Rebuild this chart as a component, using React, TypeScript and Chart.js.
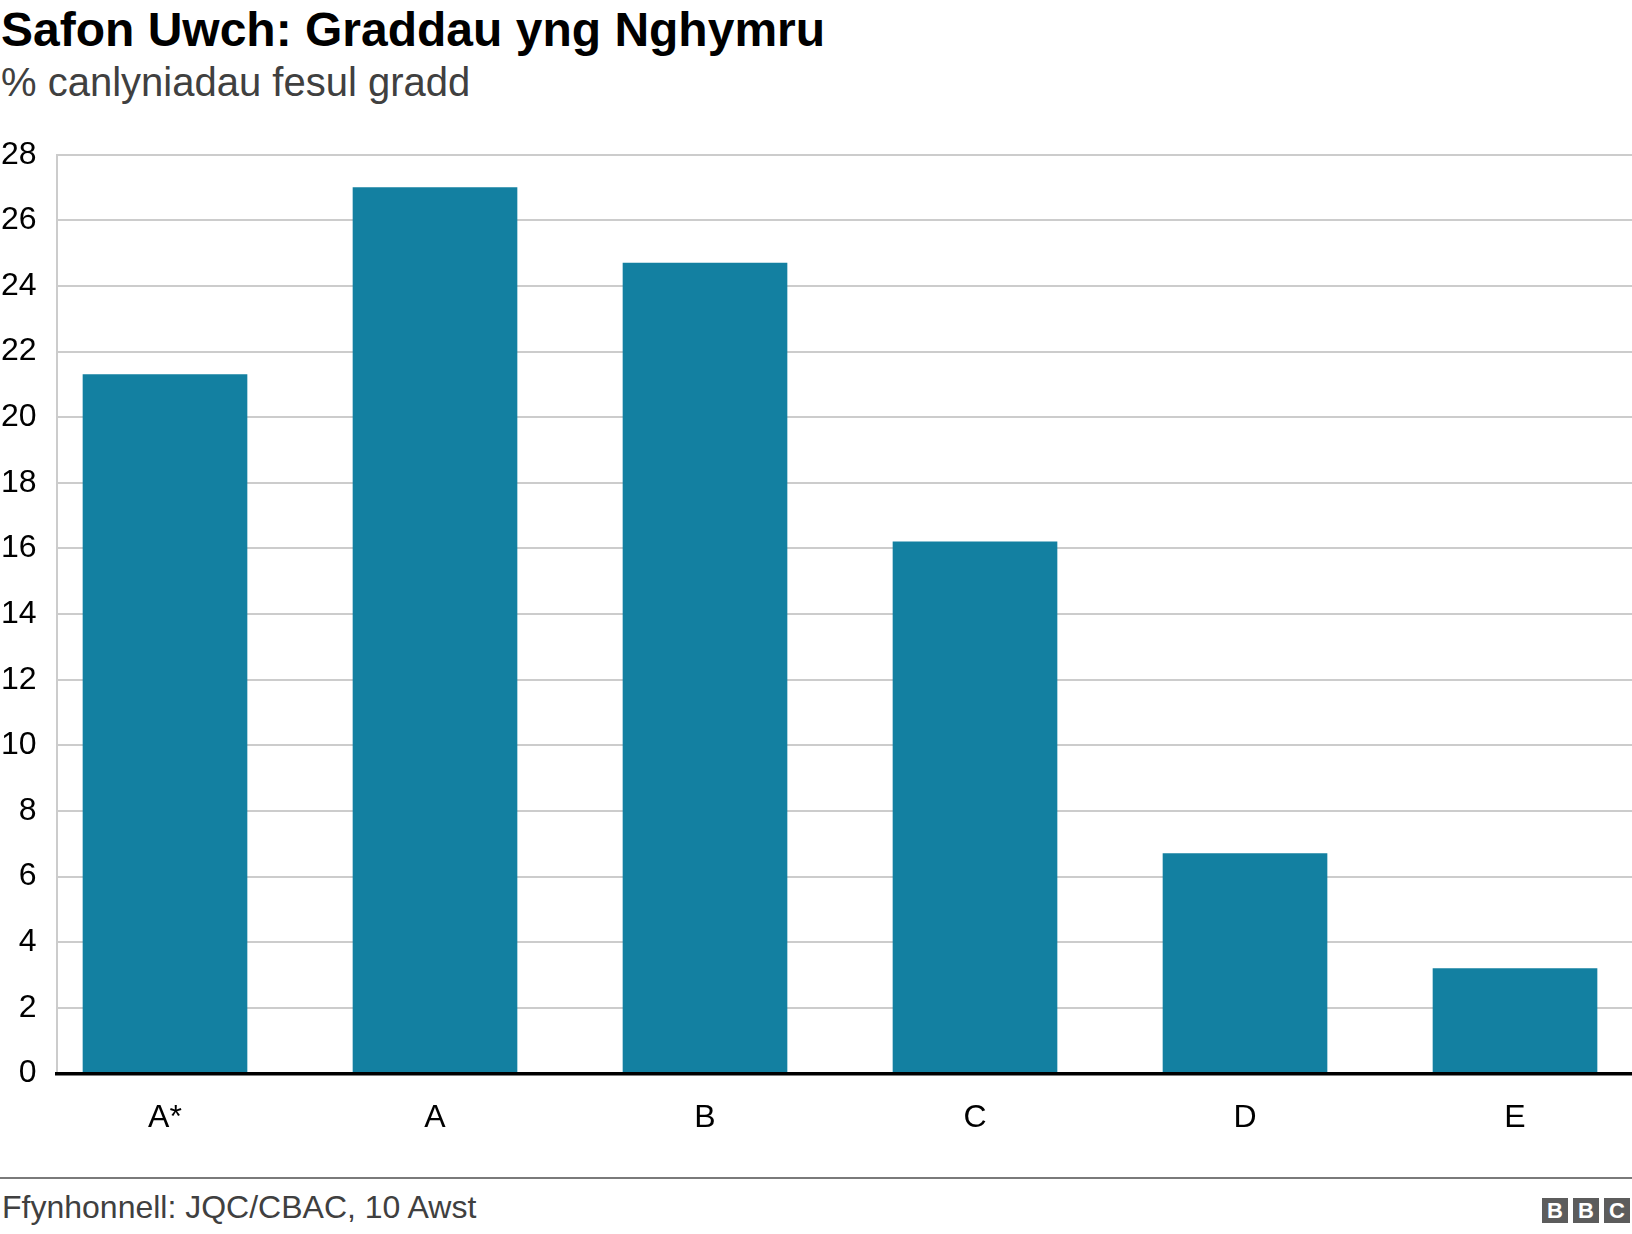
import React, { useEffect, useRef } from "react";
import { Chart, registerables } from "chart.js";

Chart.register(...registerables);

const categories = ["A*", "A", "B", "C", "D", "E"];
const values = [21.3, 27.0, 24.7, 16.2, 6.7, 3.2];
const yMin = 0;
const yMax = 28;
const yStep = 2;

const titleText = "Safon Uwch: Graddau yng Nghymru";
const subtitleText = "% canlyniadau fesul gradd";
const sourceText = "Ffynhonnell: JQC/CBAC, 10 Awst";

const FONT = '"Liberation Sans", Arial, Helvetica, sans-serif';

export default function App() {
  const canvasRef = useRef<HTMLCanvasElement | null>(null);

  useEffect(() => {
    const canvas = canvasRef.current;
    if (!canvas) return;
    Chart.defaults.font.family = FONT;
    const chart = new Chart(canvas, {
      type: "bar",
      data: {
        datasets: [
          {
            data: values.map((v, i) => ({ x: i, y: v })),
            backgroundColor: "#1380a1",
            borderWidth: 0,
            barThickness: 164,
          } as any,
        ],
      },
      options: {
        animation: false,
        responsive: false,
        devicePixelRatio: 1,
        layout: { padding: { top: 154.7, bottom: 26.5, left: 0, right: 0 } },
        plugins: {
          legend: { display: false },
          tooltip: { enabled: false },
          title: { display: false },
        },
        scales: {
          x: {
            type: "linear",
            min: -0.4,
            max: 5.4333,
            offset: false,
            grid: { display: false, drawTicks: false },
            border: { display: true, color: "#000000", width: 3.5, z: 1 },
            afterBuildTicks: (scale: any) => {
              scale.ticks = categories.map((_, i) => ({ value: i }));
            },
            afterFit: (scale: any) => {
              scale.height = 60;
            },
            ticks: {
              padding: 25.3,
              color: "#000000",
              font: { size: 32, family: FONT },
              maxRotation: 0,
              autoSkip: false,
              callback: (v: any) => {
                const i = Math.round(Number(v));
                return Math.abs(Number(v) - i) < 1e-6 && categories[i] !== undefined ? categories[i] : "";
              },
            },
          },
          y: {
            min: yMin,
            max: yMax,
            grid: { color: "#cccccc", lineWidth: 2, drawTicks: false },
            border: { display: true, color: "#cccccc", width: 2 },
            afterFit: (scale: any) => {
              scale.width = 57;
            },
            ticks: {
              stepSize: yStep,
              padding: 20.5,
              color: "#000000",
              font: { size: 32, family: FONT },
            },
          },
        },
      } as any,
    });
    return () => chart.destroy();
  }, []);

  const box: React.CSSProperties = {
    position: "absolute",
    top: 1198,
    width: 26,
    height: 25,
    background: "#5c5c5c",
    color: "#ffffff",
    fontFamily: FONT,
    fontWeight: "bold",
    fontSize: 22,
    lineHeight: "25px",
    textAlign: "center",
  };

  return (
    <div
      style={{
        position: "absolute",
        left: 0,
        top: 0,
        width: 1632,
        height: 1234,
        overflow: "hidden",
        background: "#ffffff",
        fontFamily: FONT,
      }}
    >
      <div
        style={{
          position: "absolute",
          left: 1,
          top: 6,
          fontSize: 48,
          lineHeight: "48px",
          fontWeight: "bold",
          color: "#000000",
          whiteSpace: "nowrap",
        }}
      >
        {titleText}
      </div>
      <div
        style={{
          position: "absolute",
          left: 1,
          top: 62,
          fontSize: 40,
          lineHeight: "40px",
          color: "#404040",
          whiteSpace: "nowrap",
        }}
      >
        {subtitleText}
      </div>
      <canvas
        ref={canvasRef}
        width={1632}
        height={1160}
        style={{ position: "absolute", left: 0, top: 0, width: 1632, height: 1160 }}
      />
      <div
        style={{
          position: "absolute",
          left: 0,
          top: 1177,
          width: 1632,
          height: 2,
          background: "#7a7a7a",
        }}
      />
      <div
        style={{
          position: "absolute",
          left: 2,
          top: 1191,
          fontSize: 32,
          lineHeight: "32px",
          color: "#404040",
          whiteSpace: "nowrap",
        }}
      >
        {sourceText}
      </div>
      <div style={{ ...box, left: 1542 }}>B</div>
      <div style={{ ...box, left: 1573 }}>B</div>
      <div style={{ ...box, left: 1604 }}>C</div>
    </div>
  );
}
